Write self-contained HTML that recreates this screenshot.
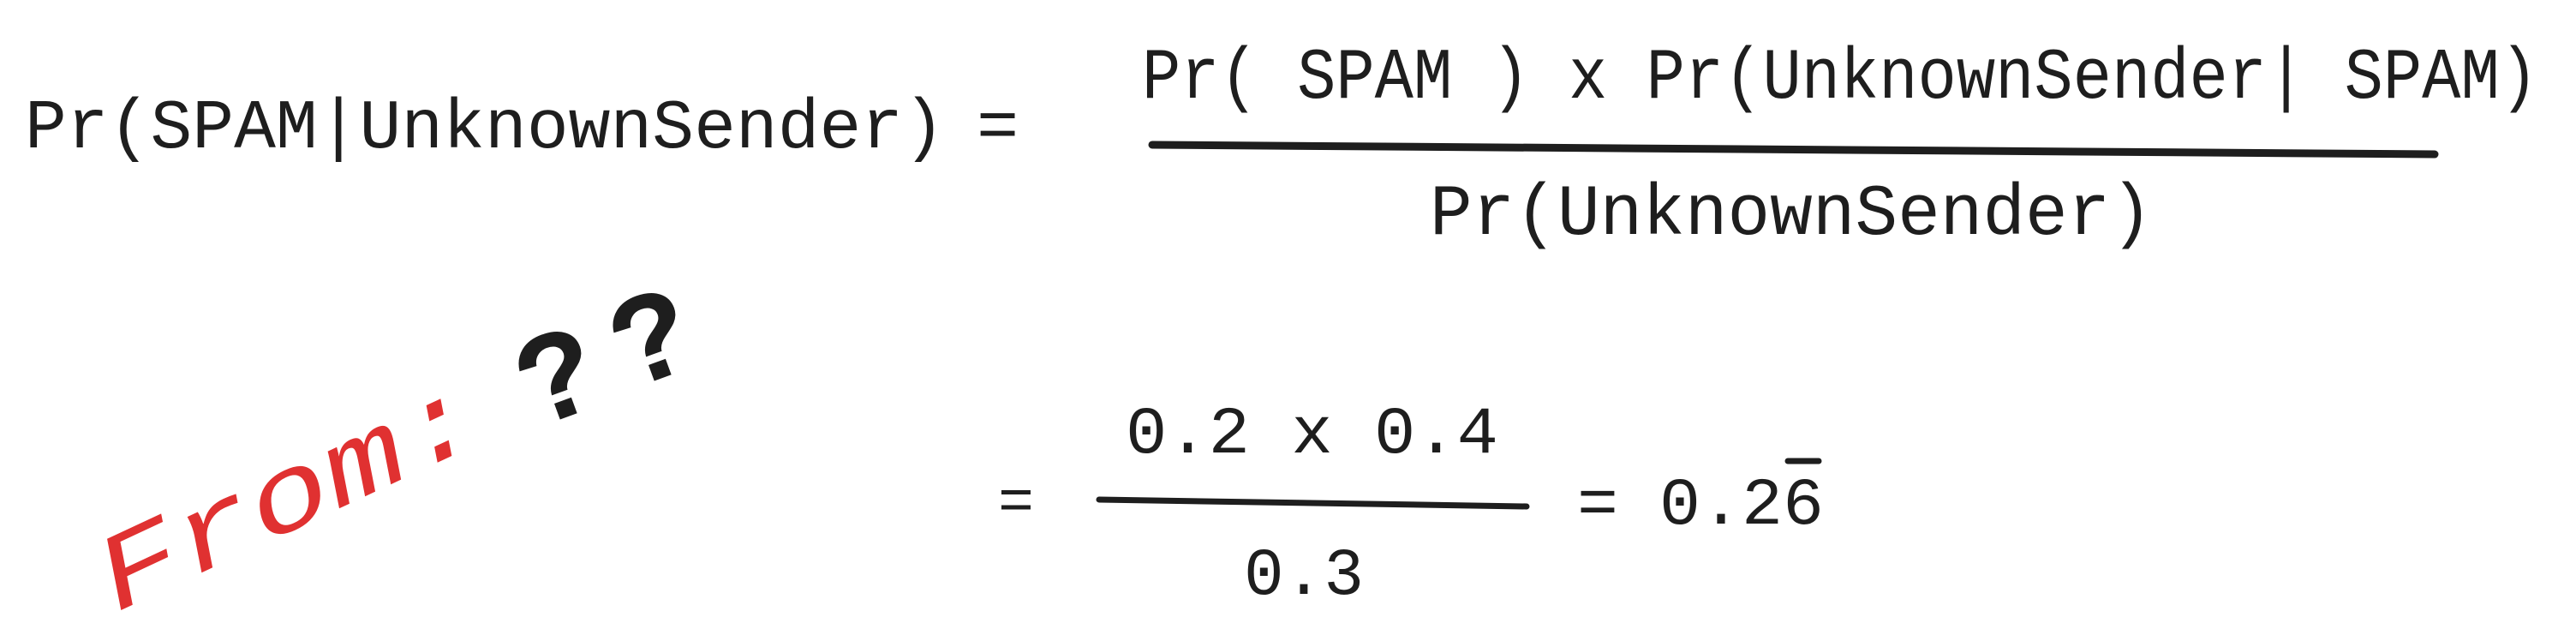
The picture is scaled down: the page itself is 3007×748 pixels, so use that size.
<!DOCTYPE html>
<html><head><meta charset="utf-8"><style>
html,body{margin:0;padding:0;background:#fff;}
svg{display:block;}
text{font-family:"Liberation Mono","DejaVu Sans Mono",monospace;fill:#1e1e1e;}
</style></head><body>
<svg width="3007" height="748" viewBox="0 0 3007 748">
<rect width="3007" height="748" fill="#fff"/>
<text x="29" y="172" font-size="82" textLength="1074" lengthAdjust="spacingAndGlyphs">Pr(SPAM|UnknownSender)</text>
<text x="1140" y="172" font-size="82">=</text>
<text x="1333" y="114" font-size="84" textLength="1630" lengthAdjust="spacingAndGlyphs">Pr( SPAM ) x Pr(UnknownSender| SPAM)</text>
<line x1="1345" y1="169" x2="2842" y2="180" stroke="#1e1e1e" stroke-width="9" stroke-linecap="round"/>
<text x="1669" y="273" font-size="84" textLength="844" lengthAdjust="spacingAndGlyphs">Pr(UnknownSender)</text>
<text x="1165" y="606" font-size="70">=</text>
<text x="1314" y="528" font-size="78" textLength="435" lengthAdjust="spacingAndGlyphs">0.2 x 0.4</text>
<line x1="1283" y1="583" x2="1782" y2="591" stroke="#1e1e1e" stroke-width="7" stroke-linecap="round"/>
<text x="1452" y="693" font-size="78" textLength="140" lengthAdjust="spacingAndGlyphs">0.3</text>
<text x="1841" y="611" font-size="78" textLength="288" lengthAdjust="spacingAndGlyphs">= 0.26</text>
<line x1="2087" y1="538" x2="2123" y2="538" stroke="#1e1e1e" stroke-width="7" stroke-linecap="round"/>
<text x="0" y="0" font-size="125" font-family="Liberation Sans, sans-serif" style="fill:#e03131;font-style:italic" transform="translate(135,715) rotate(-25)" textLength="480" lengthAdjust="spacingAndGlyphs">From:</text>
<text x="0" y="0" font-size="150" font-family="Liberation Sans, sans-serif" font-weight="bold" transform="translate(625,500) rotate(-20)">?</text>
<text x="0" y="0" font-size="150" font-family="Liberation Sans, sans-serif" font-weight="bold" transform="translate(735,455) rotate(-20)">?</text>
</svg>
</body></html>
